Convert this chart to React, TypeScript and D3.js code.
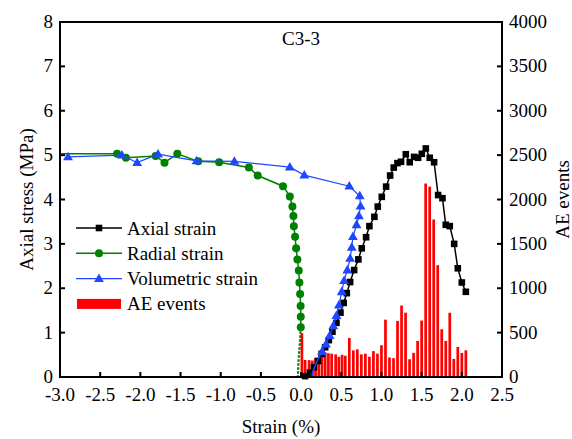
import React from "react";
import * as d3 from "d3";

// ---------- data ----------
const axialStrain: [number, number][] = [
  [0.05, 0.02], [0.11, 0.1], [0.16, 0.22], [0.21, 0.36], [0.255, 0.52], [0.3, 0.67],
  [0.345, 0.83], [0.39, 1.02], [0.44, 1.22], [0.49, 1.45], [0.53, 1.67], [0.569, 1.89],
  [0.61, 2.14], [0.66, 2.41], [0.713, 2.65], [0.755, 2.9], [0.809, 3.15], [0.85, 3.4],
  [0.912, 3.61], [0.954, 3.84], [1.004, 4.06], [1.058, 4.29], [1.108, 4.54], [1.153, 4.72],
  [1.199, 4.82], [1.244, 4.85], [1.303, 5.02], [1.352, 4.84], [1.406, 4.96], [1.456, 4.94],
  [1.502, 5.03], [1.552, 5.15], [1.601, 4.94], [1.655, 4.84], [1.705, 4.1], [1.759, 4.03],
  [1.8, 3.43], [1.85, 3.4], [1.905, 3.0], [1.95, 2.45], [2.0, 2.13], [2.05, 1.92],
];

const radialStrain: [number, number][] = [
  [-3.0, 5.03], [-2.29, 5.03], [-2.18, 4.94], [-1.81, 4.98], [-1.7, 4.83], [-1.54, 5.03],
  [-1.28, 4.86], [-1.02, 4.84], [-0.65, 4.72], [-0.54, 4.54], [-0.225, 4.3], [-0.14, 4.07],
  [-0.108, 3.84], [-0.096, 3.63], [-0.09, 3.4], [-0.075, 3.16], [-0.062, 2.9], [-0.046, 2.65],
  [-0.029, 2.4], [-0.021, 2.13], [-0.012, 1.87], [-0.006, 1.6], [-0.004, 1.36], [-0.004, 1.12],
];
const radialTail: [number, number][] = [
  [-0.004, 1.12], [-0.012, 0.85], [-0.025, 0.55], [-0.035, 0.25], [-0.04, 0.0],
];

const volumetricStrain: [number, number][] = [
  [-2.9, 4.96], [-2.23, 5.0], [-2.04, 4.83], [-1.78, 5.02], [-1.3, 4.87], [-0.83, 4.86],
  [-0.14, 4.73], [0.04, 4.55], [0.6, 4.3], [0.73, 4.08], [0.74, 3.85], [0.72, 3.63],
  [0.69, 3.43], [0.645, 3.16], [0.63, 2.92], [0.61, 2.67], [0.575, 2.41], [0.535, 2.17],
  [0.506, 1.92], [0.47, 1.62], [0.44, 1.38], [0.4, 1.15], [0.355, 0.93], [0.31, 0.74],
  [0.26, 0.57],
];
const volumetricTail: [number, number][] = [
  [0.26, 0.57], [0.2, 0.36], [0.15, 0.15], [0.137, 0.0],
];

const aeStrain: number[] = [
  0.01, 0.05, 0.1, 0.14, 0.18, 0.22, 0.26, 0.3, 0.34, 0.38, 0.43, 0.47, 0.51, 0.55,
  0.6, 0.65, 0.7, 0.75, 0.8, 0.85, 0.9, 0.95, 1.0, 1.05, 1.1, 1.15, 1.2, 1.25, 1.3, 1.35,
  1.4, 1.45, 1.5, 1.55, 1.6, 1.65, 1.7, 1.75, 1.8, 1.85, 1.9, 1.95, 2.0, 2.05,
];
const aeEvents: number[] = [
  495, 192, 190, 185, 215, 222, 228, 278, 268, 262, 255, 228, 250, 240,
  440, 300, 311, 255, 263, 228, 292, 263, 358, 646, 220, 212, 632, 805, 725, 200,
  272, 406, 636, 2180, 2145, 1775, 1260, 538, 406, 724, 203, 338, 272, 301,
];

const xTickLabels: number[] = [-3.0, -2.5, -2.0, -1.5, -1.0, -0.5, 0.0, 0.5, 1.0, 1.5, 2.0, 2.5];
const yTickLabels: number[] = [0, 1, 2, 3, 4, 5, 6, 7, 8];
const y2TickLabels: number[] = [0, 500, 1000, 1500, 2000, 2500, 3000, 3500, 4000];

const legendItems = ["Axial strain", "Radial strain", "Volumetric strain", "AE events"];

// ---------- layout ----------
const W = 572;
const H = 439;
const L = 60, R = 502, T = 22, B = 377;
const FONT = "'Times New Roman', 'Liberation Serif', serif";
const BLACK = "#000000";
const GREEN = "#008000";
const BLUE = "#1f47ff";
const RED = "#ff0000";

export default function App() {
  const x = d3.scaleLinear().domain([-3, 2.5]).range([L, R]);
  const y = d3.scaleLinear().domain([0, 8]).range([B, T]);
  const y2 = d3.scaleLinear().domain([0, 4000]).range([B, T]);

  const line = d3
    .line<[number, number]>()
    .x((d) => x(d[0]))
    .y((d) => y(d[1]));

  const barW = 2.7;
  const tri = d3.symbol().type(d3.symbolTriangle).size(42)();
  const sq = 6.6;
  const fs = 19;

  const legendRowY = (i: number) => 228 + i * 25.3;

  return (
    <svg
      width={W}
      height={H}
      style={{ position: "absolute", left: 0, top: 0, background: "#fff" }}
      fontFamily={FONT}
    >
      <rect x={0} y={0} width={W} height={H} fill="#fff" />
      {/* AE bars */}
      <g>
        {aeStrain.map((s, i) => (
          <rect
            key={i}
            x={x(s) - barW / 2}
            y={y2(aeEvents[i])}
            width={barW}
            height={B - y2(aeEvents[i])}
            fill={RED}
          />
        ))}
      </g>

      {/* axial strain */}
      <path d={line(axialStrain) || ""} fill="none" stroke={BLACK} strokeWidth={1.5} />
      {axialStrain.map((d, i) => (
        <rect key={i} x={x(d[0]) - sq / 2} y={y(d[1]) - sq / 2} width={sq} height={sq} fill={BLACK} />
      ))}

      {/* radial strain */}
      <path d={line(radialStrain) || ""} fill="none" stroke={GREEN} strokeWidth={1.5} />
      <path d={line(radialTail) || ""} fill="none" stroke={GREEN} strokeWidth={2.2} strokeDasharray="2.5,1.5" />
      {radialStrain
        .filter((d) => d[0] > -3)
        .map((d, i) => (
          <circle key={i} cx={x(d[0])} cy={y(d[1])} r={4} fill={GREEN} />
        ))}

      {/* volumetric strain */}
      <path d={line(volumetricStrain) || ""} fill="none" stroke={BLUE} strokeWidth={1.2} />
      <path d={line(volumetricTail) || ""} fill="none" stroke={BLUE} strokeWidth={1.5} />
      {volumetricStrain.map((d, i) => (
        <path key={i} d={tri || ""} transform={`translate(${x(d[0])},${y(d[1]) + 0.5})`} fill={BLUE} />
      ))}

      {/* frame */}
      <rect x={L} y={T} width={R - L} height={B - T} fill="none" stroke="#000" strokeWidth={2} />

      {/* x ticks */}
      {xTickLabels.map((t, i) => (
        <g key={i}>
          <line x1={x(t)} x2={x(t)} y1={B} y2={B - 5} stroke="#000" strokeWidth={2} />
          <text x={x(t)} y={401} textAnchor="middle" fontSize={fs}>
            {t.toFixed(1)}
          </text>
        </g>
      ))}
      {/* y ticks */}
      {yTickLabels.map((t, i) => (
        <g key={i}>
          <line x1={L} x2={L + 5} y1={y(t)} y2={y(t)} stroke="#000" strokeWidth={2} />
          <text x={53} y={y(t) + 6} textAnchor="end" fontSize={fs}>
            {t}
          </text>
        </g>
      ))}
      {/* y2 ticks */}
      {y2TickLabels.map((t, i) => (
        <g key={i}>
          <line x1={R} x2={R - 5} y1={y2(t)} y2={y2(t)} stroke="#000" strokeWidth={2} />
          <text x={509} y={y2(t) + 6} textAnchor="start" fontSize={fs}>
            {t}
          </text>
        </g>
      ))}

      {/* axis titles */}
      <text x={(L + R) / 2} y={433} textAnchor="middle" fontSize={fs}>
        Strain (%)
      </text>
      <text
        transform={`translate(33,${(T + B) / 2}) rotate(-90)`}
        textAnchor="middle"
        fontSize={fs}
      >
        Axial stress (MPa)
      </text>
      <text
        transform={`translate(569,${(T + B) / 2}) rotate(-90)`}
        textAnchor="middle"
        fontSize={fs}
      >
        AE events
      </text>

      {/* title */}
      <text x={282} y={45} fontSize={fs}>
        C3-3
      </text>

      {/* legend */}
      <g>
        <line x1={76} x2={122} y1={legendRowY(0)} y2={legendRowY(0)} stroke={BLACK} strokeWidth={1.5} />
        <rect x={99 - sq / 2} y={legendRowY(0) - sq / 2} width={sq} height={sq} fill={BLACK} />
        <line x1={76} x2={122} y1={legendRowY(1)} y2={legendRowY(1)} stroke={GREEN} strokeWidth={1.5} />
        <circle cx={99} cy={legendRowY(1)} r={4} fill={GREEN} />
        <line x1={76} x2={122} y1={legendRowY(2)} y2={legendRowY(2)} stroke={BLUE} strokeWidth={1.2} />
        <path d={tri || ""} transform={`translate(99,${legendRowY(2) + 0.5})`} fill={BLUE} />
        <rect x={77} y={legendRowY(3) - 5} width={44} height={10} fill={RED} />
        {legendItems.map((s, i) => (
          <text key={i} x={127} y={legendRowY(i) + 6.5} fontSize={fs}>
            {s}
          </text>
        ))}
      </g>
    </svg>
  );
}
